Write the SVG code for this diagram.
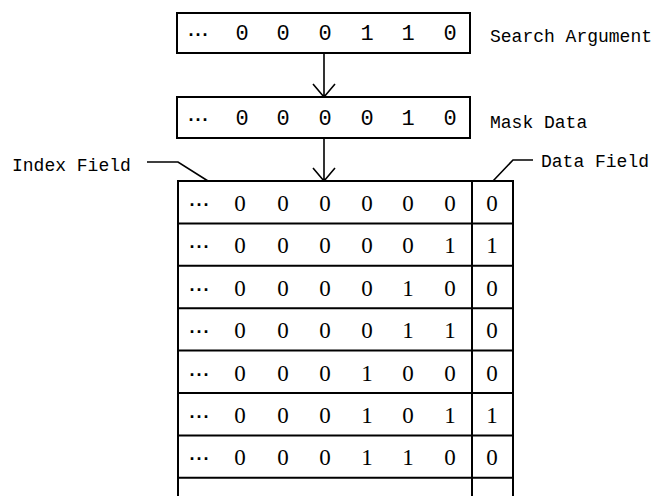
<svg xmlns="http://www.w3.org/2000/svg" width="664" height="496" viewBox="0 0 664 496">
<style>
.box{fill:none;stroke:#000;stroke-width:2}
.ln{fill:none;stroke:#000;stroke-width:1.6}
.lbl{font-family:"Liberation Mono",monospace;font-size:18px;fill:#000}
.dg{font-family:"Liberation Mono",monospace;font-size:22px;fill:#000;text-anchor:middle}
.td{font-family:"Liberation Serif",serif;font-size:23px;fill:#000;text-anchor:middle}
.dots{font-family:"Liberation Sans",sans-serif;font-size:18px;font-weight:bold;fill:#000;text-anchor:middle;letter-spacing:1px}
</style>
<rect width="664" height="496" fill="#fff"/>
<g id="search-argument">
<rect class="box" x="177" y="13" width="293" height="40"/>
<text class="dots" x="199" y="41">···</text>
<text class="dg" x="242" y="40">0</text>
<text class="dg" x="283" y="40">0</text>
<text class="dg" x="325" y="40">0</text>
<text class="dg" x="367" y="40">1</text>
<text class="dg" x="408" y="40">1</text>
<text class="dg" x="450" y="40">0</text>
<text class="lbl" x="490" y="42">Search Argument</text>
</g>
<g id="mask-data">
<rect class="box" x="177" y="97" width="293" height="41"/>
<text class="dots" x="199" y="126">···</text>
<text class="dg" x="242" y="125">0</text>
<text class="dg" x="283" y="125">0</text>
<text class="dg" x="325" y="125">0</text>
<text class="dg" x="367" y="125">0</text>
<text class="dg" x="408" y="125">1</text>
<text class="dg" x="450" y="125">0</text>
<text class="lbl" x="490" y="128">Mask Data</text>
</g>
<g id="index-field-label">
<text class="lbl" x="12" y="171">Index Field</text>
</g>
<g id="data-field-label">
<text class="lbl" x="541" y="167">Data Field</text>
</g>
<g id="table">
<path class="box" d="M178 500 V181 H513 V500 M472 181 V500"/>
<path class="box" d="M178 223.4 H513 M178 265.8 H513 M178 308.2 H513 M178 350.6 H513 M178 393 H513 M178 435.4 H513 M178 477.8 H513"/>
<g id="row1">
<text class="dots" x="200" y="211">···</text>
<text class="td" x="240" y="211">0</text><text class="td" x="283" y="211">0</text><text class="td" x="325" y="211">0</text><text class="td" x="367" y="211">0</text><text class="td" x="408" y="211">0</text><text class="td" x="450" y="211">0</text><text class="td" x="492" y="211">0</text>
</g>
<g id="row2">
<text class="dots" x="200" y="253.4">···</text>
<text class="td" x="240" y="253.4">0</text><text class="td" x="283" y="253.4">0</text><text class="td" x="325" y="253.4">0</text><text class="td" x="367" y="253.4">0</text><text class="td" x="408" y="253.4">0</text><text class="td" x="450" y="253.4">1</text><text class="td" x="492" y="253.4">1</text>
</g>
<g id="row3">
<text class="dots" x="200" y="295.8">···</text>
<text class="td" x="240" y="295.8">0</text><text class="td" x="283" y="295.8">0</text><text class="td" x="325" y="295.8">0</text><text class="td" x="367" y="295.8">0</text><text class="td" x="408" y="295.8">1</text><text class="td" x="450" y="295.8">0</text><text class="td" x="492" y="295.8">0</text>
</g>
<g id="row4">
<text class="dots" x="200" y="338.2">···</text>
<text class="td" x="240" y="338.2">0</text><text class="td" x="283" y="338.2">0</text><text class="td" x="325" y="338.2">0</text><text class="td" x="367" y="338.2">0</text><text class="td" x="408" y="338.2">1</text><text class="td" x="450" y="338.2">1</text><text class="td" x="492" y="338.2">0</text>
</g>
<g id="row5">
<text class="dots" x="200" y="380.6">···</text>
<text class="td" x="240" y="380.6">0</text><text class="td" x="283" y="380.6">0</text><text class="td" x="325" y="380.6">0</text><text class="td" x="367" y="380.6">1</text><text class="td" x="408" y="380.6">0</text><text class="td" x="450" y="380.6">0</text><text class="td" x="492" y="380.6">0</text>
</g>
<g id="row6">
<text class="dots" x="200" y="423">···</text>
<text class="td" x="240" y="423">0</text><text class="td" x="283" y="423">0</text><text class="td" x="325" y="423">0</text><text class="td" x="367" y="423">1</text><text class="td" x="408" y="423">0</text><text class="td" x="450" y="423">1</text><text class="td" x="492" y="423">1</text>
</g>
<g id="row7">
<text class="dots" x="200" y="465.4">···</text>
<text class="td" x="240" y="465.4">0</text><text class="td" x="283" y="465.4">0</text><text class="td" x="325" y="465.4">0</text><text class="td" x="367" y="465.4">1</text><text class="td" x="408" y="465.4">1</text><text class="td" x="450" y="465.4">0</text><text class="td" x="492" y="465.4">0</text>
</g>
</g>
<g id="connectors">
<path class="ln" d="M324 53 V97 M313 84 L324 97 L335 84"/>
<path class="ln" d="M324 138 V181 M313 168 L324 181 L335 168"/>
<path class="ln" d="M147 162 H178 L208 181"/>
<path class="ln" d="M493 181 L513 160 H533"/>
</g>
</svg>
